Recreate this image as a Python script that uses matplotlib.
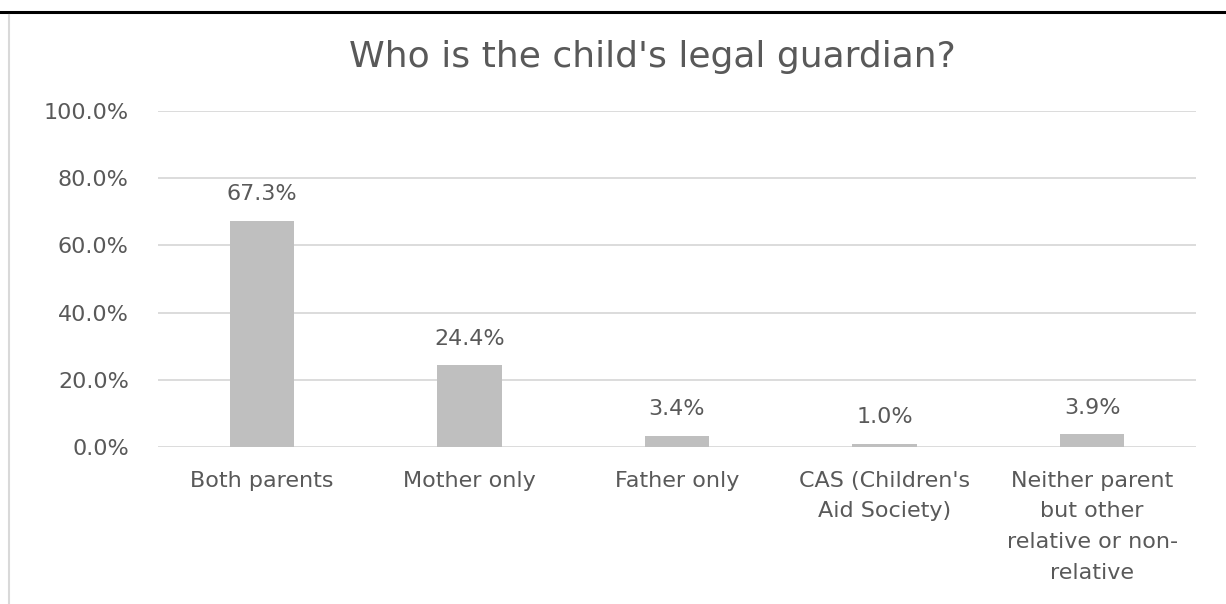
import matplotlib.pyplot as plt
from matplotlib.lines import Line2D
from matplotlib.ticker import FuncFormatter

categories = [
    "Both parents",
    "Mother only",
    "Father only",
    "CAS (Children's\nAid Society)",
    "Neither parent\nbut other\nrelative or non-\nrelative",
]
values = [0.673, 0.244, 0.034, 0.010, 0.039]
value_labels = ["67.3%", "24.4%", "3.4%", "1.0%", "3.9%"]

text_color = "#595959"
grid_color = "#D9D9D9"
bar_color = "#BFBFBF"

plt.rcParams["font.family"] = ["DejaVu Sans"]

fig = plt.figure(figsize=(12.26, 6.04), dpi=100)
ax = fig.add_axes([158 / 1226, 1 - 447 / 604, (1196 - 158) / 1226, (447 - 111) / 604])

x = range(len(categories))
ax.bar(x, values, width=0.31, color=bar_color, zorder=2)
for xi, v, lab in zip(x, values, value_labels):
    ax.annotate(lab, (xi, v), xytext=(0, 19), textcoords="offset points",
                ha="center", va="center", fontsize=16, color=text_color)

ax.set_xlim(-0.5, len(categories) - 0.5)
ax.set_ylim(0, 1.0)
ax.set_yticks([0, 0.2, 0.4, 0.6, 0.8, 1.0])
ax.yaxis.set_major_formatter(FuncFormatter(lambda v, _: f"{v * 100:.1f}%"))
ax.set_xticks(list(x))
ax.set_xticklabels(categories, linespacing=1.68, va="top")
ax.tick_params(axis="both", length=0, labelsize=16, labelcolor=text_color)
ax.tick_params(axis="y", pad=21)
ax.tick_params(axis="x", pad=17)
ax.grid(axis="y", color=grid_color, linewidth=1.3, zorder=0)
for s in ax.spines.values():
    s.set_visible(False)

fig.suptitle("Who is the child's legal guardian?", x=652 / 1226,
             y=1 - 57 / 604, va="center", fontsize=26, color=text_color)

# page frame remnants
fig.add_artist(Line2D([0, 1], [1 - 12 / 604] * 2, color="black", linewidth=2.2))
fig.add_artist(Line2D([9 / 1226] * 2, [0, 1 - 15 / 604], color=grid_color, linewidth=1.5))

fig.savefig("out.png", dpi=100)
